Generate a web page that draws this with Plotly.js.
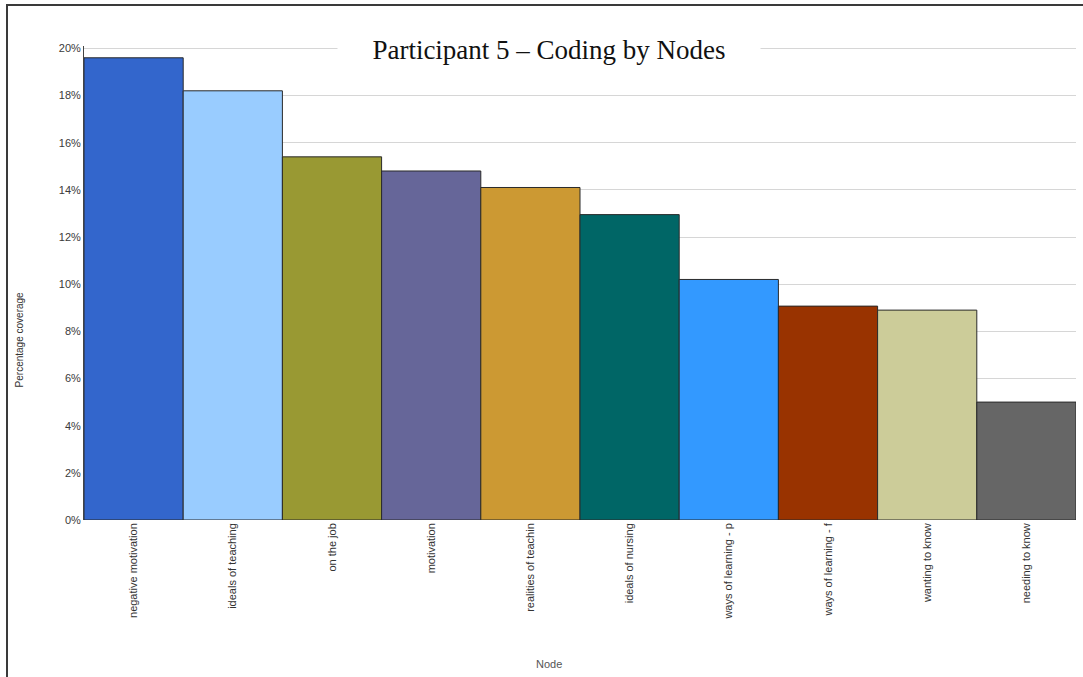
<!DOCTYPE html>
<html>
<head>
<meta charset="utf-8">
<script src="https://cdn.plot.ly/plotly-3.0.1.min.js"></script>
<style>
  html, body { margin: 0; padding: 0; background: #fff; }
  #wrap { position: relative; width: 1083px; height: 677px; }
  #chart { width: 1083px; height: 677px; }
  #frame {
    position: absolute; left: 6px; top: 4px; right: 0; bottom: 0;
    border-left: 2px solid #3a3a3a; border-top: 2px solid #3a3a3a;
    pointer-events: none;
  }
</style>
</head>
<body>
<div id="wrap">
  <div id="chart"></div>
  <div id="frame"></div>
</div>
<script>
// Coding coverage per node for participant 5 (percent of source)
const nodes = [
  'negative motivation', 'ideals of teaching', 'on the job', 'motivation',
  'realities of teachin', 'ideals of nursing', 'ways of learning - p',
  'ways of learning - f', 'wanting to know', 'needing to know'
];
const coverage = [19.6, 18.2, 15.4, 14.8, 14.1, 12.95, 10.2, 9.07, 8.9, 5.0];
const barColors = [
  '#3366CC', '#99CCFF', '#999933', '#666699', '#CC9933',
  '#006666', '#3399FF', '#993300', '#CCCC99', '#666666'
];
const yTicks = [0, 2, 4, 6, 8, 10, 12, 14, 16, 18, 20];

const chartTitle = 'Participant 5 \u2013 Coding by Nodes';
const yLabel = 'Percentage coverage';
const xLabel = 'Node';

const trace = {
  type: 'bar',
  x: nodes,
  y: coverage,
  marker: { color: barColors, line: { color: '#2a2a2a', width: 1 } },
  hoverinfo: 'x+y'
};

const layout = {
  width: 1083,
  height: 677,
  margin: { l: 84, r: 7, t: 46, b: 157 },
  paper_bgcolor: '#ffffff',
  plot_bgcolor: '#ffffff',
  bargap: 0,
  showlegend: false,
  font: { family: 'Liberation Sans, Arial, sans-serif', size: 11, color: '#333' },
  xaxis: {
    type: 'category',
    tickangle: -90,
    showgrid: false,
    showline: false,
    zeroline: false,
    ticks: '',
    tickfont: { size: 11, color: '#333' },
    automargin: false
  },
  yaxis: {
    // slightly above 20 so the top gridline is drawn inside the plot
    range: [0, 20.1],
    tickvals: yTicks,
    ticktext: yTicks.map(v => v + '%'),
    showgrid: true,
    gridcolor: '#d6d6d6',
    gridwidth: 1,
    zeroline: false,
    showline: true,
    linecolor: '#444',
    linewidth: 1,
    ticks: '',
    tickfont: { size: 11, color: '#3a3a3a' },
    automargin: false
  },
  annotations: [
    {
      text: chartTitle,
      xref: 'paper', yref: 'paper',
      x: 0.469, y: 0.992,
      xanchor: 'center', yanchor: 'middle',
      showarrow: false,
      bgcolor: '#ffffff',
      width: 420,
      height: 30,
      font: { family: 'Liberation Serif, Times New Roman, serif', size: 27, color: '#111' }
    },
    {
      text: yLabel,
      xref: 'paper', yref: 'paper',
      x: -0.065, y: 0.38,
      xanchor: 'center', yanchor: 'middle',
      textangle: -90,
      showarrow: false,
      font: { size: 10, color: '#333' }
    },
    {
      text: xLabel,
      xref: 'paper', yref: 'paper',
      x: 0.469, y: -0.303,
      xanchor: 'center', yanchor: 'middle',
      showarrow: false,
      font: { size: 11, color: '#555' }
    }
  ]
};

Plotly.newPlot('chart', [trace], layout, { displayModeBar: false, staticPlot: true });
</script>
</body>
</html>
